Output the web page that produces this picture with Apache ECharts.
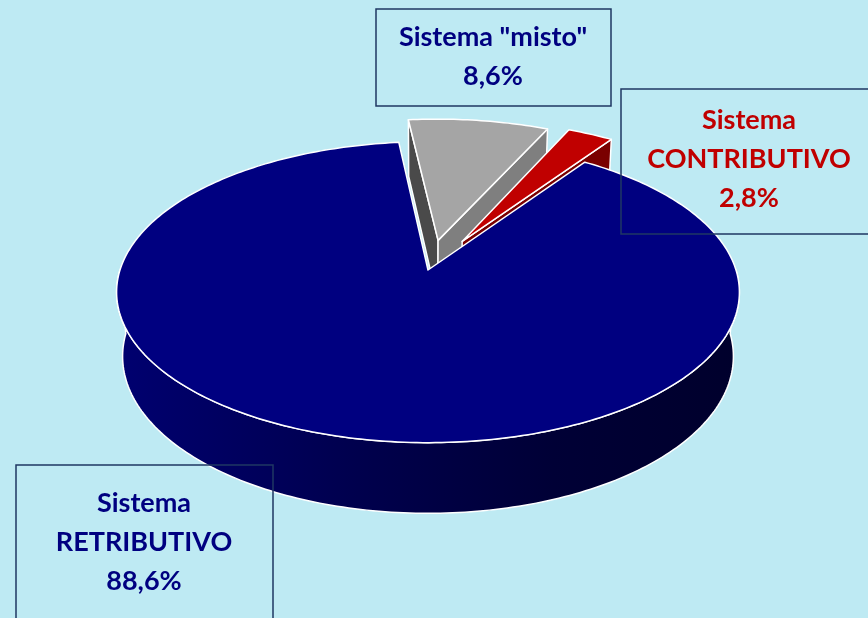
<!DOCTYPE html>
<html><head><meta charset="utf-8">
<script src="https://cdn.jsdelivr.net/npm/echarts@6/dist/echarts.min.js"></script>
<style>html,body{margin:0;padding:0;background:#BEEAF3}#c{width:868px;height:618px}</style>
</head><body><div id="c"></div>
<script>
// ---- data ----
const categories = ['Sistema RETRIBUTIVO', 'Sistema "misto"', 'Sistema CONTRIBUTIVO'];
const labelLines = [['Sistema', 'RETRIBUTIVO'], ['Sistema "misto"'], ['Sistema', 'CONTRIBUTIVO']];
const shares = [88.6, 8.6, 2.8];
const exploded = [false, true, true];

// ---- styles ----
const STYLE = {
  top: ['#000080', '#A5A5A5', '#C00000'],
  startFace: ['#00004A', '#4A4A4A', '#7A0000'],
  endFace: ['#00004A', '#7F7F7F', '#7A0000'],
  label: ['#000080', '#000080', '#C00000'],
  explode: [0, 0.21, 0.23],
  box: '#1F3763',
  font: 'Lato'
};

// ---- 3D projection parameters ----
const CX = 428, CY = 270, K = 308, ALPHA = 28.55 * Math.PI / 180, DIST = 5.96, H = 0.24, START = 34.8;
const SA = Math.sin(ALPHA), CA = Math.cos(ALPHA);
const total = shares.reduce((a, b) => a + b, 0);
const cum = []; shares.reduce((acc, v, i) => { cum[i] = acc; return acc + v; }, 0);

function proj(phi, r, Y, off) {
  const p = phi * Math.PI / 180;
  const X = r * Math.sin(p) + off[0], Z = r * Math.cos(p) + off[1];
  const yc = Y * CA + Z * SA, zc = -Y * SA + Z * CA, f = DIST / (DIST + zc);
  return [CX + K * X * f, CY - K * yc * f];
}
function arc(a, b, Y, off) {
  const pts = []; const n = Math.max(2, Math.ceil(Math.abs(b - a)));
  for (let s = 0; s <= n; s++) pts.push(proj(a + (b - a) * s / n, 1, Y, off));
  return pts;
}

function renderItem(params, api) {
  const i = params.dataIndex;
  const v = api.value(0);
  const a1 = START + cum[i] / total * 360, a2 = a1 + v / total * 360;
  const am = (a1 + a2) / 2 * Math.PI / 180;
  const e = exploded[i] ? STYLE.explode[i] : 0;
  const off = [e * Math.sin(am), e * Math.cos(am)];
  const rank = i === 0 ? 10 : i * 2;
  const stroke = { stroke: '#FFFFFF', lineWidth: 1.5, lineJoin: 'round' };
  const children = [];
  const camV = [-off[0], DIST * SA, -DIST * CA - off[1]];
  // outer curved side (front half)
  for (const base of [0, 360]) {
    const lo = Math.max(a1, 90 + base), hi = Math.min(a2, 270 + base);
    if (hi > lo) {
      const pts = arc(lo, hi, 0, off).concat(arc(lo, hi, -H, off).reverse());
      children.push({ type: 'polygon', z2: rank, shape: { points: pts },
        style: Object.assign({ fill: new echarts.graphic.LinearGradient(0, 0, 1, 0, [
          { offset: 0, color: '#000070' }, { offset: 0.4, color: '#00004C' },
          { offset: 0.7, color: '#000036' }, { offset: 1, color: '#00002C' }]) }, stroke) });
    }
  }
  // radial faces
  const faces = [[a1, -1, STYLE.startFace[i]], [a2, 1, STYLE.endFace[i]]];
  for (const [ang, sgn, col] of faces) {
    const p = ang * Math.PI / 180;
    const N = sgn > 0 ? [Math.cos(p), -Math.sin(p)] : [-Math.cos(p), Math.sin(p)];
    if (N[0] * camV[0] + N[1] * camV[2] > 0) {
      const pts = [proj(0, 0, 0, off), proj(ang, 1, 0, off), proj(ang, 1, -H, off), proj(0, 0, -H, off)];
      children.push({ type: 'polygon', z2: rank, shape: { points: pts }, style: Object.assign({ fill: col }, stroke) });
    }
  }
  // top face
  const topPts = [proj(0, 0, 0, off)].concat(arc(a1, a2, 0, off));
  children.push({ type: 'polygon', z2: rank + 1, shape: { points: topPts }, style: Object.assign({ fill: STYLE.top[i] }, stroke) });
  return { type: 'group', children };
}

function fmt(v) { return v.toFixed(1).replace('.', ',') + '%'; }
const boxes = [
  { rect: [16, 465, 257, 170], text: [144, 542] },
  { rect: [376, 9, 235, 97], text: [493, 57] },
  { rect: [621, 89, 260, 145], text: [749, 159] }
];
const graphic = [];
labelLines.forEach((lines, i) => {
  const b = boxes[i];
  graphic.push({ type: 'rect', z: 100, shape: { x: b.rect[0], y: b.rect[1], width: b.rect[2], height: b.rect[3] },
    style: { fill: 'none', stroke: STYLE.box, lineWidth: 1.5 } });
  graphic.push({ type: 'text', z: 101, x: b.text[0], y: b.text[1],
    style: { text: lines.concat([fmt(shares[i])]).join('\n'), align: 'center', verticalAlign: 'middle',
      font: 'bold 27px ' + STYLE.font, lineHeight: 39, fill: STYLE.label[i] } });
});

const chart = echarts.init(document.getElementById('c'), null, { renderer: 'canvas' });
chart.setOption({
  backgroundColor: '#BEEAF3',
  animation: false,
  series: [{
    type: 'custom', coordinateSystem: 'none', renderItem,
    data: shares.map((v, i) => ({ name: categories[i], value: [v] }))
  }],
  graphic
});
</script></body></html>
